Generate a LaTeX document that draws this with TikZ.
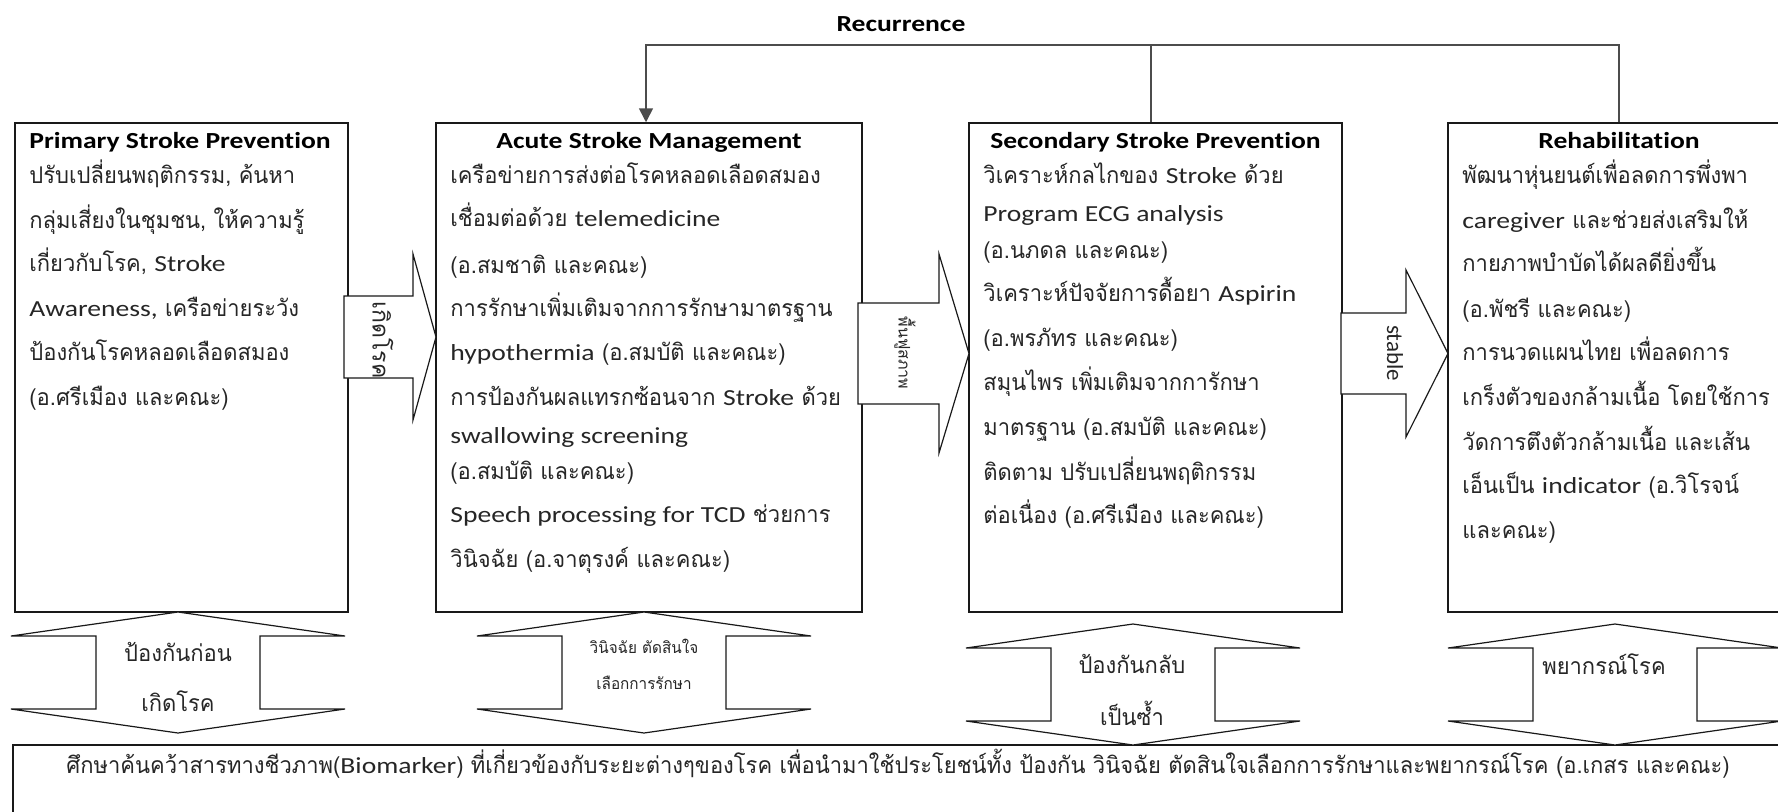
\documentclass[tikz,border=0pt]{standalone}
\usepackage{fontspec}
\setmainfont[FakeStretch=1.2,Ligatures=NoCommon]{Carlito}
\newfontfamily\lat[FakeStretch=1.2,Ligatures=NoCommon]{Carlito}
\newfontfamily\latrot[Ligatures=NoCommon]{Carlito}
\newfontfamily\thai[Script=Thai,FakeStretch=0.955]{Loma}
\newfontfamily\thairot[Script=Thai]{Loma}
\usetikzlibrary{arrows.meta}
\newcommand\en[1]{{\lat #1}}
\newcommand\bodyfont{\thai\fontsize{11.5}{14}\selectfont}
\newcommand\titlefont{\lat\bfseries\fontsize{11.5}{14}\selectfont}
\newcommand\dblarrow[2]{\draw[blk] (#1,#2) -- ++(167,24) -- ++(-85,0) -- ++(0,73) -- ++(85,0) -- ++(-167,24) -- ++(-167,-24) -- ++(85,0) -- ++(0,-73) -- ++(-85,0) -- cycle;}
\begin{document}
\begin{tikzpicture}[x=0.5pt,y=-0.5pt,
  box/.style={draw=black!90,line width=0.75pt,inner sep=0pt},
  blk/.style={draw=black!90,line width=0.6pt,fill=white,line join=miter},
  tl/.style={inner sep=0pt,anchor=base west,text=black!85,font=\bodyfont},
  ttl/.style={inner sep=0pt,anchor=base,text=black,font=\titlefont},
  dl/.style={inner sep=0pt,anchor=base,text=black!85,font=\bodyfont},
  rl/.style={inner sep=0pt,anchor=center,rotate=-90,text=black!85},
  conn/.style={draw=black!70,line width=0.8pt}]
\useasboundingbox (0,0) rectangle (1778,811);
\clip (0,0) rectangle (1778,811);
% boxes
\node[box,minimum width=166.5pt,minimum height=244.5pt] (b1) at (181.5,367.5) {};
\node[box,minimum width=213pt,minimum height=244.5pt] (b2) at (649,367.5) {};
\node[box,minimum width=186.5pt,minimum height=244.5pt] (b3) at (1155.5,367.5) {};
\node[box,minimum width=171pt,minimum height=244.5pt] (b4) at (1619,367.5) {};
\node[box,minimum width=893.5pt,minimum height=42.5pt] (b5) at (906.5,787.5) {};
% recurrence
\coordinate (rec) at (646,45);
\coordinate (vl) at (1151,45);
\draw[conn,-{Triangle[width=7pt,length=7pt]}] (b4.north) |- (rec) -- (rec |- b2.north);
\draw[conn] (vl) -- (vl |- b3.north);
\node[ttl] (rt) at (901,31) {Recurrence};
% block arrows
\draw[blk] (344,296) -- (413,296) -- (413,254) -- (436,337) -- (413,420) -- (413,378) -- (344,378) -- cycle;
\draw[blk] (858,303) -- (939,303) -- (939,254) -- (969,353.5) -- (939,453) -- (939,404) -- (858,404) -- cycle;
\draw[blk] (1341,313) -- (1406,313) -- (1406,270) -- (1448,353.5) -- (1406,437) -- (1406,394) -- (1341,394) -- cycle;
\node[rl,font=\thairot\fontsize{11.5}{14}\selectfont] (a1) at (383,340) {เกิดโรค};
\node[rl,font=\thairot\fontsize{8}{10}\selectfont] (a2) at (905,353) {พื้นฟูสภาพ};
\node[rl,font=\latrot\fontsize{11.5}{14}\selectfont] (a3) at (1395,353) {stable};
% double arrows
\dblarrow{178}{612}
\dblarrow{644}{612}
\dblarrow{1133}{624}
\dblarrow{1615}{624}
\node[dl] (d1a) at (178,661) {ป้องกันก่อน};
\node[dl] (d1b) at (178,711) {เกิดโรค};
\node[dl,font=\thai\fontsize{8}{10}\selectfont] (d2a) at (644,653) {วินิจฉัย ตัดสินใจ};
\node[dl,font=\thai\fontsize{8}{10}\selectfont] (d2b) at (644,689) {เลือกการรักษา};
\node[dl] (d3a) at (1132,673) {ป้องกันกลับ};
\node[dl] (d3b) at (1132,725) {เป็นซ้ำ};
\node[dl] (d4a) at (1604,674) {พยากรณ์โรค};
% box 1
\node[ttl,anchor=base west] (t1) at (29,148) {Primary Stroke Prevention};
\node[tl] (l11) at (29,183) {ปรับเปลี่ยนพฤติกรรม, ค้นหา};
\node[tl] (l12) at (29,228) {กลุ่มเสี่ยงในชุมชน, ให้ความรู้};
\node[tl] (l13) at (29,271) {เกี่ยวกับโรค, \en{Stroke}};
\node[tl] (l14) at (29,316) {\en{Awareness,} เครือข่ายระวัง};
\node[tl] (l15) at (29,360) {ป้องกันโรคหลอดเลือดสมอง};
\node[tl] (l16) at (29,405) {(อ.ศรีเมือง และคณะ)};
% box 2
\node[ttl] (t2) at (649,148) {Acute Stroke Management};
\node[tl] (l21) at (450,183) {เครือข่ายการส่งต่อโรคหลอดเลือดสมอง};
\node[tl] (l22) at (450,226) {เชื่อมต่อด้วย \en{telemedicine}};
\node[tl] (l23) at (450,273) {(อ.สมชาติ และคณะ)};
\node[tl] (l24) at (450,316) {การรักษาเพิ่มเติมจากการรักษามาตรฐาน};
\node[tl] (l25) at (450,360) {\en{hypothermia} (อ.สมบัติ และคณะ)};
\node[tl] (l26) at (450,405) {การป้องกันผลแทรกซ้อนจาก \en{Stroke} ด้วย};
\node[tl] (l27) at (450,443) {\en{swallowing screening}};
\node[tl] (l28) at (450,479) {(อ.สมบัติ และคณะ)};
\node[tl] (l29) at (450,522) {\en{Speech processing for TCD} ช่วยการ};
\node[tl] (l2a) at (450,567) {วินิจฉัย (อ.จาตุรงค์ และคณะ)};
% box 3
\node[ttl] (t3) at (1155.5,148) {Secondary Stroke Prevention};
\node[tl] (l31) at (983,183) {วิเคราะห์กลไกของ \en{Stroke} ด้วย};
\node[tl] (l32) at (983,221) {\en{Program ECG analysis}};
\node[tl] (l33) at (983,258) {(อ.นภดล และคณะ)};
\node[tl] (l34) at (983,301) {วิเคราะห์ปัจจัยการดื้อยา \en{Aspirin}};
\node[tl] (l35) at (983,346) {(อ.พรภัทร และคณะ)};
\node[tl] (l36) at (983,390) {สมุนไพร เพิ่มเติมจากการักษา};
\node[tl] (l37) at (983,435) {มาตรฐาน (อ.สมบัติ และคณะ)};
\node[tl] (l38) at (983,480) {ติดตาม ปรับเปลี่ยนพฤติกรรม};
\node[tl] (l39) at (983,523) {ต่อเนื่อง (อ.ศรีเมือง และคณะ)};
% box 4
\node[ttl] (t4) at (1619,148) {Rehabilitation};
\node[tl] (l41) at (1462,183) {พัฒนาหุ่นยนต์เพื่อลดการพึ่งพา};
\node[tl] (l42) at (1462,228) {\en{caregiver} และช่วยส่งเสริมให้};
\node[tl] (l43) at (1462,271) {กายภาพบำบัดได้ผลดียิ่งขึ้น};
\node[tl] (l44) at (1462,317) {(อ.พัชรี และคณะ)};
\node[tl] (l45) at (1462,360) {การนวดแผนไทย เพื่อลดการ};
\node[tl] (l46) at (1462,405) {เกร็งตัวของกล้ามเนื้อ โดยใช้การ};
\node[tl] (l47) at (1462,450) {วัดการตึงตัวกล้ามเนื้อ และเส้น};
\node[tl] (l48) at (1462,493) {เอ็นเป็น \en{indicator} (อ.วิโรจน์};
\node[tl] (l49) at (1462,538) {และคณะ)};
% bottom
\node[tl] (l51) at (66,773) {ศึกษาค้นคว้าสารทางชีวภาพ(\en{Biomarker}) ที่เกี่ยวข้องกับระยะต่างๆของโรค เพื่อนำมาใช้ประโยชน์ทั้ง ป้องกัน วินิจฉัย ตัดสินใจเลือกการรักษาและพยากรณ์โรค (อ.เกสร และคณะ)};
\end{tikzpicture}
\end{document}
